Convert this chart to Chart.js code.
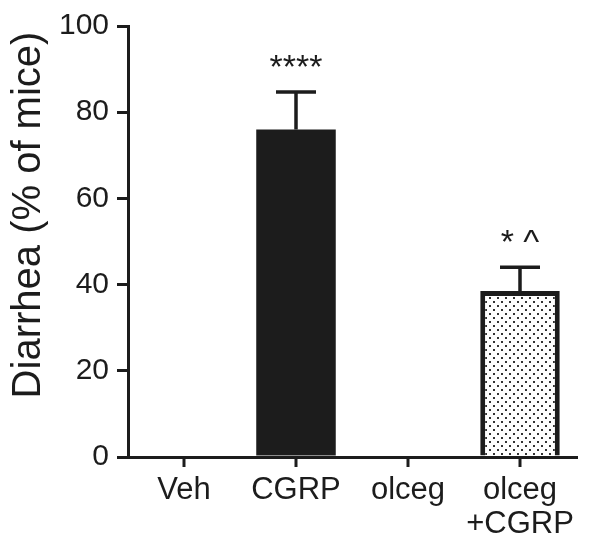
<!DOCTYPE html>
<html lang="en">
<head>
    <meta charset="UTF-8">
    <title>Diarrhea</title>
    <script src="https://cdn.jsdelivr.net/npm/chart.js"></script>
    <style>
        body { margin: 0; background: #fff; }
        canvas { display: block; }
    </style>
</head>
<body>
<canvas id="myChart" width="600" height="544"></canvas>
<script>
const groups = ['Veh', 'CGRP', 'olceg', ['olceg', '+CGRP']];
const diarrheaPct = [0, 76, 0, 38.5];
const semErr = [0, 8.7, 0, 5.5];
const sigMarks = ['', '****', '', '* ^'];
const yTicks = [0, 20, 40, 60, 80, 100];
const yTitle = 'Diarrhea (% of mice)';

const ink = '#1c1c1c';
const font = "'Liberation Sans', Arial, sans-serif";

// dotted fill for the last bar
function dotPattern() {
    const c = document.createElement('canvas');
    c.width = 8; c.height = 8;
    const g = c.getContext('2d');
    g.fillStyle = '#fff';
    g.fillRect(0, 0, 8, 8);
    g.fillStyle = '#333';
    g.fillRect(1, 1, 2, 2);
    g.fillRect(5, 5, 2, 2);
    return g.createPattern(c, 'repeat');
}
const ctx = document.getElementById('myChart').getContext('2d');
const dots = dotPattern();

// error bars, stars, x ticks at category centres, y title
const extras = {
    id: 'extras',
    afterDatasetsDraw(chart) {
        const g = chart.ctx;
        const x = chart.scales.x;
        const y = chart.scales.y;
        const meta = chart.getDatasetMeta(0);
        g.save();
        g.strokeStyle = ink;
        g.lineWidth = 3.5;
        meta.data.forEach((bar, i) => {
            if (!semErr[i]) return;
            const top = y.getPixelForValue(diarrheaPct[i] + semErr[i]);
            const base = y.getPixelForValue(diarrheaPct[i]);
            g.beginPath();
            g.moveTo(bar.x, base);
            g.lineTo(bar.x, top);
            g.moveTo(bar.x - 20, top);
            g.lineTo(bar.x + 20, top);
            g.stroke();
        });
        // category ticks
        g.lineWidth = 3;
        groups.forEach((_, i) => {
            const px = x.getPixelForValue(i);
            g.beginPath();
            g.moveTo(px, x.top);
            g.lineTo(px, x.top + 10);
            g.stroke();
        });
        g.fillStyle = ink;
        g.font = '34px ' + font;
        g.textAlign = 'center';
        g.textBaseline = 'alphabetic';
        meta.data.forEach((bar, i) => {
            if (!sigMarks[i]) return;
            const top = y.getPixelForValue(diarrheaPct[i] + semErr[i]);
            g.fillText(sigMarks[i], bar.x, top - 14);
        });
        // axis title
        g.translate(29, 215);
        g.rotate(-Math.PI / 2);
        g.font = '40px ' + font;
        g.textBaseline = 'middle';
        g.fillText(yTitle, 0, 0);
        g.restore();
    }
};

new Chart(ctx, {
    type: 'bar',
    data: {
        labels: groups,
        datasets: [{
            data: diarrheaPct,
            backgroundColor: [ink, ink, ink, dots],
            borderColor: ink,
            borderWidth: [0, 0, 0, 5],
            borderSkipped: 'start',
            categoryPercentage: 1,
            barPercentage: 0.71
        }]
    },
    options: {
        responsive: false,
        animation: false,
        layout: { padding: { top: 16, right: 24, left: 8 } },
        plugins: { legend: { display: false }, tooltip: { enabled: false } },
        scales: {
            x: {
                grid: { display: true, drawOnChartArea: false, drawTicks: true, tickLength: 10, color: 'rgba(0,0,0,0)', lineWidth: 3 },
                border: { color: ink, width: 3 },
                ticks: { color: ink, font: { family: font, size: 31, lineHeight: 1.1 }, padding: 6, maxRotation: 0 },
                afterFit(s) { s.height = 87; }
            },
            y: {
                min: 0, max: 100,
                afterBuildTicks(s) { s.ticks = yTicks.map(v => ({ value: v })); },
                grid: { display: true, drawOnChartArea: false, drawTicks: true, tickLength: 11, color: ink, lineWidth: 3 },
                border: { color: ink, width: 3 },
                ticks: { color: ink, font: { family: font, size: 30 }, padding: 8 },
                title: { display: false },
                afterFit(s) { s.width = 120; }
            }
        }
    },
    plugins: [extras]
});
</script>
</body>
</html>
